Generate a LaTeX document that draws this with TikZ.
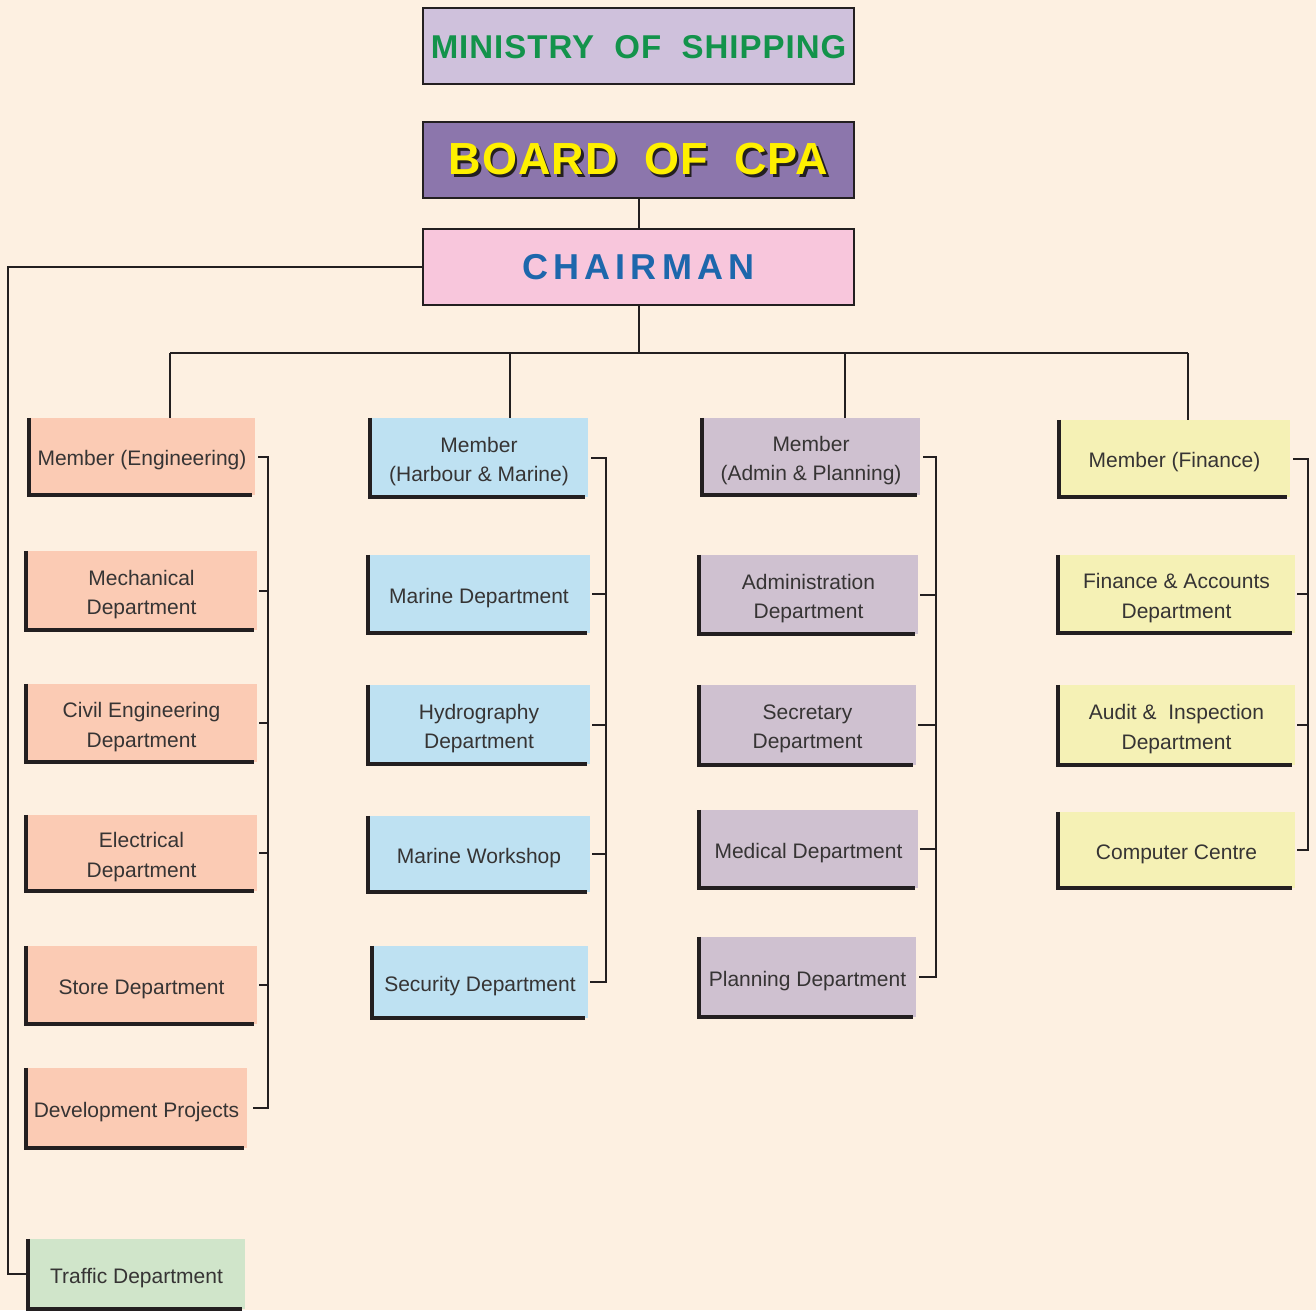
\documentclass[tikz,border=0pt]{standalone}
\usepackage{fontspec}
\setmainfont{Liberation Sans}
\definecolor{bg}{HTML}{FDF0E1}
\definecolor{minfill}{HTML}{CFC1DC}
\definecolor{boardfill}{HTML}{8C76AC}
\definecolor{chairfill}{HTML}{F8C6DC}
\definecolor{engfill}{HTML}{FBCBB4}
\definecolor{harfill}{HTML}{BEE1F2}
\definecolor{admfill}{HTML}{CFC1D0}
\definecolor{finfill}{HTML}{F5F1B5}
\definecolor{trafill}{HTML}{D0E5CA}
\definecolor{mingreen}{HTML}{13934B}
\definecolor{chairblue}{HTML}{1D67AC}
\definecolor{boardyellow}{HTML}{FFF000}
\definecolor{txt}{HTML}{363434}
\definecolor{ln}{HTML}{231F20}
\tikzset{
  boxshape/.style={inner sep=0pt},
  unitlabel/.style={inner sep=0pt, align=center, text=txt,
    font=\fontsize{21}{29.5}\selectfont},
  headbox/.style={draw=ln, line width=2pt, inner sep=0pt,
    minimum width=431, minimum height=76},
  lborder/.style={draw=ln, line width=4pt},
  conn/.style={draw=ln, line width=2pt},
}
\newcommand\ubox[7]{%
  \node[boxshape, fill=#2, minimum width=#3, minimum height=#4] (#1) at (#5,#6) {};
  \node[unitlabel] (#1t) at ([yshift=-4pt]#1.center) {#7};}
\begin{document}
\begin{tikzpicture}[x=1pt,y=-1pt]
\fill[bg] (0,0) rectangle (1316,1310);
\useasboundingbox (0,0) rectangle (1316,1310);

% headings
\node[headbox, fill=minfill] (min) at (638.5,46) {};
\node[text=mingreen, font=\fontsize{33}{40}\selectfont\bfseries\addfontfeature{LetterSpace=3}] (mint) at ([yshift=-1pt]min.center) {MINISTRY\ \ OF\ \ SHIPPING};
\node[headbox, fill=boardfill] (board) at (638.5,159.5) {};
\node[text=ln, font=\fontsize{45}{50}\selectfont\bfseries\addfontfeature{LetterSpace=2}] (bshadow) at ([xshift=2.5,yshift=-2.5]board.center) {BOARD\ \ OF\ \ CPA};
\node[text=boardyellow, font=\fontsize{45}{50}\selectfont\bfseries\addfontfeature{LetterSpace=2}] (bt) at (board.center) {BOARD\ \ OF\ \ CPA};
\node[headbox, fill=chairfill] (chair) at (638.5,267) {};
\node[text=chairblue, font=\fontsize{36}{40}\selectfont\bfseries\addfontfeature{LetterSpace=14}] (ct) at (chair.center) {CHAIRMAN};

% column 1
\ubox{e0}{engfill}{226}{77}{142}{456.5}{Member (Engineering)}
\ubox{e1}{engfill}{231}{79}{141.5}{590.5}{Mechanical\\Department}
\ubox{e2}{engfill}{231}{78}{141.5}{723}{Civil Engineering\\Department}
\ubox{e3}{engfill}{231}{76}{141.5}{853}{Electrical\\Department}
\ubox{e4}{engfill}{231}{78}{141.5}{985}{Store Department}
\ubox{e5}{engfill}{221}{80}{136.5}{1108}{Development Projects}
\ubox{tr}{trafill}{217}{70}{136.5}{1274}{Traffic Department}

% column 2
\ubox{h0}{harfill}{218}{79}{479}{457.5}{Member\\(Harbour \& Marine)}
\ubox{h1}{harfill}{222}{78}{479}{594}{Marine Department}
\ubox{h2}{harfill}{222}{79}{479}{724.5}{Hydrography\\Department}
\ubox{h3}{harfill}{222}{76}{479}{854}{Marine Workshop}
\ubox{h4}{harfill}{216}{72}{480}{982}{Security Department}

% column 3
\ubox{a0}{admfill}{218}{77}{811}{456.5}{Member\\(Admin \& Planning)}
\ubox{a1}{admfill}{219}{79}{808.5}{594.5}{Administration\\Department}
\ubox{a2}{admfill}{217}{80}{807.5}{725}{Secretary\\Department}
\ubox{a3}{admfill}{219}{78}{808.5}{849}{Medical Department}
\ubox{a4}{admfill}{217}{80}{807.5}{977}{Planning Department}

% column 4
\ubox{f0}{finfill}{231}{77}{1174.5}{458.5}{Member (Finance)}
\ubox{f1}{finfill}{237}{78}{1176.5}{594}{Finance \& Accounts\\Department}
\ubox{f2}{finfill}{237}{80}{1176.5}{725}{Audit \&\ \ Inspection\\Department}
\ubox{f3}{finfill}{237}{76}{1176.5}{850}{Computer Centre}

% L borders
\foreach \n in {e0,e1,e2,e3,e4,e5,tr,h0,h1,h2,h3,h4,a0,a1,a2,a3,a4,f0,f1,f2,f3}
  \draw[lborder] (\n.north west) -- (\n.south west) -- ([xshift=-3pt]\n.south east);

% bus coordinates
\coordinate (b1) at (268,0);
\coordinate (b2) at (606,0);
\coordinate (b3) at (936,0);
\coordinate (b4) at (1308,0);
\coordinate (lb) at (8,0);
\coordinate (hl) at (170,353);
\coordinate (hr) at (1188,353);
\coordinate (d1) at (170,0);
\coordinate (d2) at (510,0);
\coordinate (d3) at (845,0);
\coordinate (d4) at (1188,0);

% top connectors
\draw[conn] (board.south) -- (chair.north);
\draw[conn] (chair.south) -- (chair.south |- hl);
\draw[conn] (hl) -- (hr);
\draw[conn] (d1 |- hl) -- (d1 |- e0.north);
\draw[conn] (d2 |- hl) -- (d2 |- h0.north);
\draw[conn] (d3 |- hl) -- (d3 |- a0.north);
\draw[conn] (d4 |- hl) -- (d4 |- f0.north);
\draw[conn] (chair.west) -- (chair.west -| lb) -- (tr.west -| lb) -- (tr.west);

% column buses
\draw[conn] ([xshift=3pt]e0.east) -- (e0.east -| b1) -- (e5.east -| b1) -- ([xshift=6pt]e5.east);
\foreach \n in {e1,e2,e3,e4} \draw[conn] ([xshift=2pt]\n.east) -- (\n.east -| b1);
\draw[conn] ([xshift=3pt]h0.east) -- (h0.east -| b2) -- (h4.east -| b2) -- ([xshift=2pt]h4.east);
\foreach \n in {h1,h2,h3} \draw[conn] ([xshift=2pt]\n.east) -- (\n.east -| b2);
\draw[conn] ([xshift=3pt]a0.east) -- (a0.east -| b3) -- (a4.east -| b3) -- ([xshift=3pt]a4.east);
\foreach \n in {a1,a2,a3} \draw[conn] ([xshift=2pt]\n.east) -- (\n.east -| b3);
\draw[conn] ([xshift=3pt]f0.east) -- (f0.east -| b4) -- (f3.east -| b4) -- ([xshift=2pt]f3.east);
\foreach \n in {f1,f2} \draw[conn] ([xshift=2pt]\n.east) -- (\n.east -| b4);
\end{tikzpicture}
\end{document}
